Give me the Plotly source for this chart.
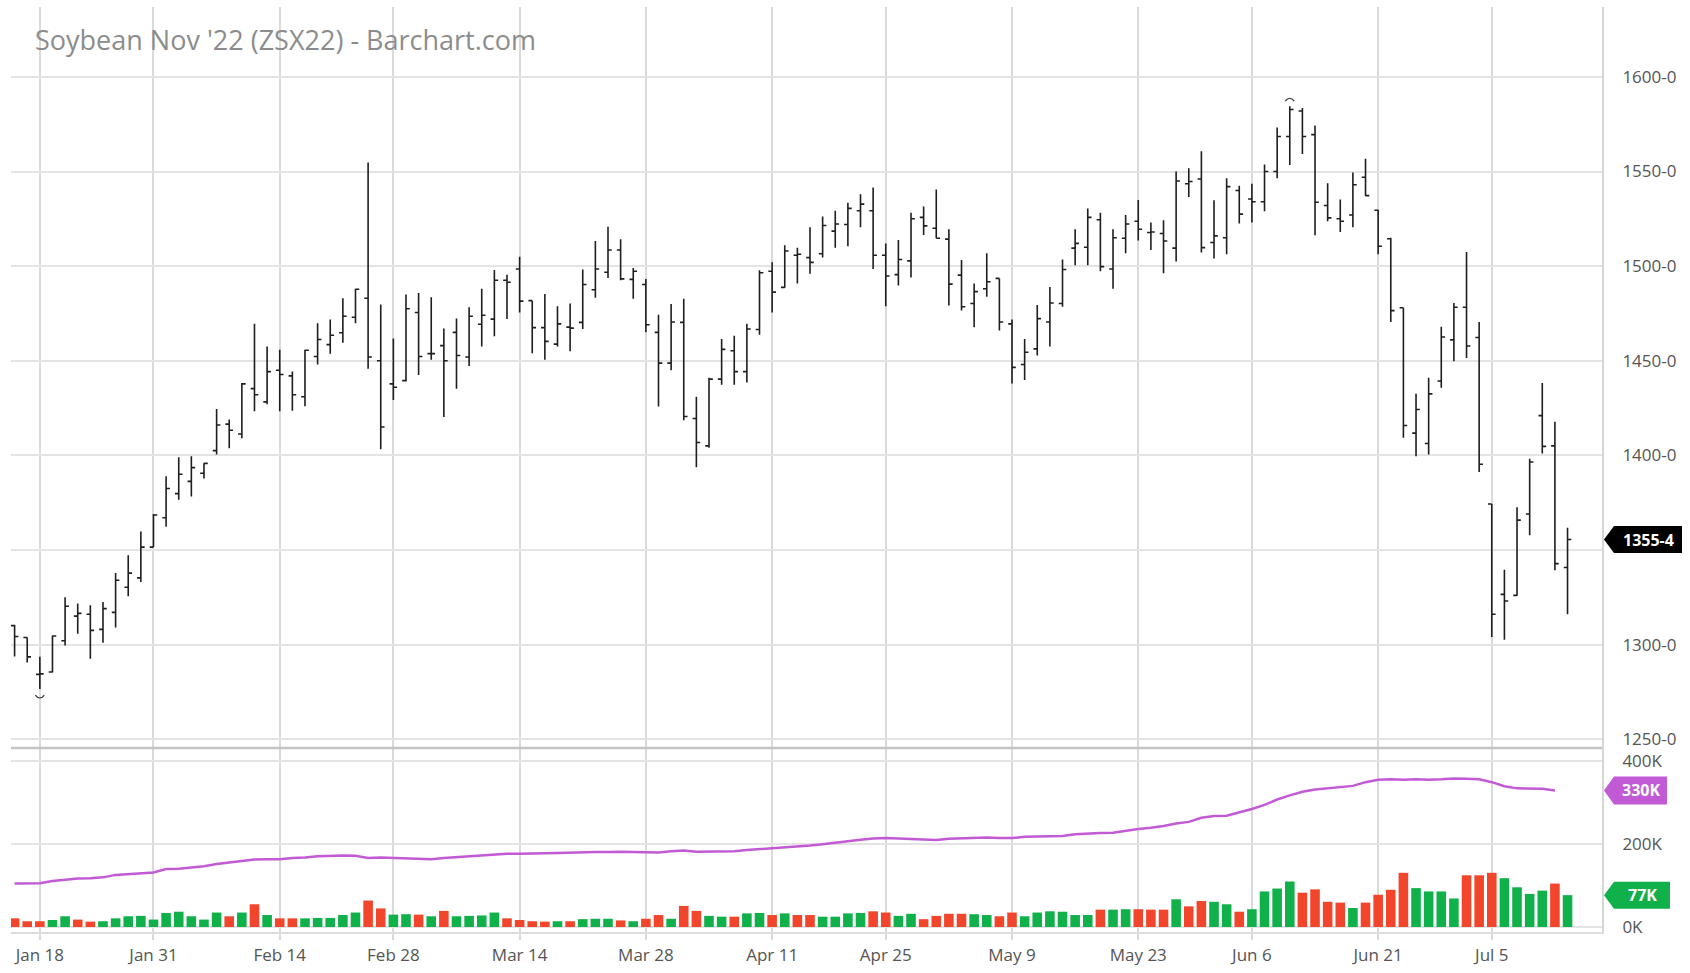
import pandas as pd
import plotly.graph_objects as go

# --- trading calendar (CBOT sessions, Jan 13 - Jul 13 2022) ---
holidays = ["2022-01-17", "2022-02-21", "2022-04-15", "2022-05-30", "2022-06-20", "2022-07-04"]
sessions = pd.bdate_range("2022-01-13", "2022-07-13", freq="C", holidays=holidays)
dates = [d.strftime("%Y-%m-%d") for d in sessions]

# --- daily OHLC, cents per bushel ---
open_ = [1310, 1303.75, 1284.25, 1285.5, 1302, 1315, 1316, 1308, 1317, 1330.25,
         1335.25, 1351.5, 1367, 1379.75, 1386.25, 1390.5, 1402.5, 1416.5, 1411.25, 1435.25,
         1428.25, 1445, 1442, 1431, 1452.25, 1458.5, 1464.75, 1473, 1483, 1450,
         1437.75, 1439.5, 1475.5, 1453.75, 1458, 1465, 1452, 1469.25, 1472, 1492.5,
         1498.5, 1481.75, 1467.5, 1458.75, 1467.75, 1470.25, 1487.5, 1496.75, 1508.5, 1493,
         1490.25, 1465, 1448.75, 1470.25, 1419.5, 1405, 1440.25, 1455.25, 1444.25, 1466.5,
         1497.25, 1488.75, 1505.75, 1504.5, 1506.5, 1518.5, 1522, 1529.25, 1529.25, 1505.75,
         1495.5, 1502.75, 1525.75, 1520, 1514.25, 1495.25, 1480.25, 1488, 1493.5, 1469.5,
         1448, 1456.25, 1470.5, 1480.25, 1509.5, 1510, 1524.5, 1498.5, 1514.75, 1523.75,
         1517.75, 1517.25, 1509.5, 1543.5, 1546, 1512.5, 1515, 1540, 1535.5, 1534,
         1550, 1568.5, 1582, 1569.5, 1532, 1525, 1527, 1547, 1529.5, 1514.5,
         1478, 1411.75, 1406.25, 1439.25, 1461, 1478.25, 1462.25, 1374.25, 1326.5, 1326,
         1369, 1421, 1405, 1340.75]
high = [1310.5, 1303.75, 1293.5, 1304.75, 1325, 1321.75, 1320.75, 1322.5, 1337.75, 1347.25,
        1359.75, 1369, 1389, 1399, 1399.5, 1395.75, 1424.5, 1419, 1438.25, 1469.5,
        1457.5, 1455.75, 1444.25, 1455.75, 1469.75, 1471.75, 1483, 1488, 1554.75, 1479.75,
        1461.75, 1485, 1485.75, 1483.5, 1467, 1472.25, 1478.25, 1488, 1498, 1495.5,
        1505, 1481.75, 1485.25, 1478.75, 1480.25, 1498.25, 1513.25, 1520.75, 1514.25, 1499,
        1493.25, 1474.25, 1480, 1482.75, 1431, 1441, 1461.5, 1463.25, 1469.5, 1497.75,
        1502, 1511, 1509.75, 1520.5, 1526.25, 1529.25, 1533.5, 1538, 1541.5, 1512,
        1513.75, 1528.25, 1531.5, 1540.5, 1519.5, 1503.25, 1490.75, 1506.75, 1493.5, 1471.75,
        1461.5, 1479.5, 1489, 1503.5, 1519.5, 1530.5, 1528.25, 1519.5, 1527, 1535,
        1523, 1524.25, 1550, 1551.75, 1560.75, 1534.75, 1546.5, 1542.5, 1543.5, 1553.75,
        1573.25, 1584.5, 1583.5, 1574.25, 1543.75, 1535.25, 1549.5, 1556.75, 1529.75, 1515,
        1478, 1432.5, 1441, 1468, 1480.5, 1507.5, 1470.5, 1374.25, 1339.5, 1372.5,
        1398.25, 1438.25, 1417.75, 1361.75]
low = [1293.75, 1290.5, 1276.5, 1285.25, 1299.5, 1305.75, 1292.5, 1301, 1309, 1325.5,
       1333, 1351.5, 1362.25, 1376.5, 1378.25, 1387.75, 1400.5, 1403.75, 1409, 1423.25,
       1427, 1423.25, 1423.5, 1426, 1448, 1453.75, 1459.5, 1469.75, 1445.75, 1403.25,
       1429.25, 1439, 1442.5, 1450.5, 1420.25, 1435.25, 1447.25, 1457.5, 1463, 1472,
       1475.5, 1454, 1450.5, 1457.5, 1455, 1466.75, 1483.25, 1493.75, 1492.5, 1482.75,
       1465, 1425.75, 1445, 1418.5, 1393.75, 1404, 1437.25, 1437.25, 1438.5, 1463.75,
       1475.5, 1488.5, 1490.75, 1496, 1504.5, 1509.75, 1510.5, 1520.5, 1498.5, 1478.75,
       1489.75, 1494, 1516.5, 1514.75, 1479.25, 1476.5, 1467.75, 1483.75, 1466, 1438,
       1439.75, 1452.75, 1457.5, 1478.5, 1500.5, 1500.5, 1497.25, 1488, 1506.75, 1513.5,
       1508.5, 1496.25, 1502.5, 1536.5, 1507.25, 1504, 1506.25, 1522.5, 1523, 1529,
       1546.5, 1553.5, 1559.25, 1516.25, 1523.75, 1518, 1520.5, 1537, 1506.25, 1470.5,
       1409.25, 1399.5, 1400.5, 1435.75, 1449.75, 1451.5, 1391.25, 1304, 1302.5, 1325.75,
       1357.75, 1401, 1339.25, 1316]
close = [1304.25, 1293.5, 1284.5, 1304.5, 1320.25, 1316.5, 1307.5, 1319, 1334, 1337.75,
         1351.5, 1368.5, 1382.5, 1390, 1393.5, 1395.75, 1416, 1413.25, 1437.75, 1432,
         1444.25, 1442.75, 1432, 1455.5, 1461.25, 1463.5, 1473.5, 1487.75, 1452, 1415,
         1436, 1477.5, 1452.25, 1453.75, 1450, 1452.75, 1473.5, 1474, 1492.5, 1491.5,
         1481.5, 1467.5, 1460.25, 1469.5, 1467.25, 1490.25, 1498.5, 1508.5, 1493.25, 1497.25,
         1469, 1448.75, 1470.5, 1420.5, 1406.75, 1440.25, 1456, 1444.25, 1466.75, 1496.5,
         1486.25, 1508, 1506.25, 1502, 1521.5, 1522.25, 1530.5, 1532.75, 1505.75, 1494.75,
         1503.5, 1525, 1521.25, 1514.75, 1490.5, 1478.5, 1486.5, 1491.75, 1470.5, 1446.5,
         1454.5, 1472.25, 1480.5, 1498.25, 1512, 1525.75, 1499.75, 1515, 1522.25, 1519.5,
         1518, 1513.25, 1545, 1544.75, 1509.75, 1516, 1542, 1527.5, 1534, 1550,
         1568.5, 1582.75, 1568.5, 1533.75, 1525.5, 1523.75, 1543, 1537.25, 1510.5, 1476.5,
         1415.75, 1424.25, 1432.5, 1462.5, 1478.25, 1457.75, 1395.25, 1316, 1323, 1365.75,
         1396.5, 1404.75, 1342.75, 1355.5]

# --- daily volume and open interest, thousands of contracts ---
volume_k = [21, 14, 14, 17, 26, 18, 13, 14, 21, 26,
            27, 18, 34, 37, 26, 18, 35, 26, 35, 55,
            29, 21, 21, 21, 22, 22, 29, 35, 64, 45,
            30, 31, 30, 26, 39, 26, 27, 28, 35, 21,
            17, 14, 13, 14, 14, 19, 20, 20, 16, 14,
            20, 29, 20, 51, 39, 27, 25, 25, 33, 34,
            29, 33, 29, 29, 25, 25, 33, 34, 38, 35,
            27, 32, 19, 27, 32, 32, 31, 29, 26, 35,
            26, 35, 38, 37, 29, 29, 42, 42, 43, 43,
            42, 42, 67, 50, 63, 61, 55, 37, 43, 86,
            93, 110, 83, 91, 61, 59, 46, 59, 78, 90,
            131, 94, 86, 86, 69, 125, 125, 131, 118, 96,
            80, 88, 105, 77]

open_interest_k = [105, 105, 106, 111, 114, 117, 118, 120, 126, 128,
                   130, 132, 140, 141, 144, 147, 152, 156, 160, 163,
                   164, 164, 167, 168, 171, 172, 173, 172, 167, 168,
                   167, 166, 164, 164, 167, 169, 171, 172, 175, 177,
                   177, 177, 178, 179, 180, 181, 181, 181, 182, 181,
                   181, 180, 183, 185, 182, 182, 183, 183, 186, 188,
                   190, 192, 195, 197, 200, 203, 207, 211, 214, 215,
                   214, 212, 211, 210, 213, 214, 215, 216, 215, 215,
                   218, 219, 220, 220, 224, 226, 227, 228, 233, 237,
                   240, 244, 250, 254, 264, 268, 269, 277, 285, 295,
                   308, 318, 327, 332, 335, 338, 341, 350, 356, 357,
                   356, 357, 356, 357, 359, 358, 357, 350, 340, 335,
                   334, 334, 330]

volume = [v * 1000 for v in volume_k]
open_interest = [v * 1000 for v in open_interest_k]

tick_dates = ["2022-01-18", "2022-01-31", "2022-02-14", "2022-02-28", "2022-03-14",
              "2022-03-28", "2022-04-11", "2022-04-25", "2022-05-09", "2022-05-23",
              "2022-06-06", "2022-06-21", "2022-07-05"]
tick_labels = [f"{pd.Timestamp(d):%b} {pd.Timestamp(d).day}" for d in tick_dates]

price_ticks = list(range(1250, 1601, 50))
volume_ticks = [0, 200000, 400000]

# --- geometry / styling ---
W, H = 1690, 973
ML, MR, MT, MB = 11, 88, 7, 33
SPLIT_PX = 754.5
plot_h = H - MT - MB
split = (H - MB - SPLIT_PX) / plot_h
PRICE_RANGE = [1245.28, 1636.94]
VOLUME_RANGE = [-12000, 432300]

GREEN = "#10b04a"
RED = "#f1462b"
OI_COLOR = "#c25ad6"
GRID = "#e4e4e4"
VGRID = "#dadada"
FONT = "Open Sans"
TICK_COLOR = "#555555"


def eighths(p):
    whole = int(p)
    return f"{whole}-{round((p - whole) * 8)}"


vol_colors = []
for i, c in enumerate(close):
    ref = close[i - 1] if i > 0 else open_[0]
    vol_colors.append(GREEN if c >= ref else RED)

# price labels that would sit underneath the last-price tag are left blank
price_px = (SPLIT_PX - MT) / (PRICE_RANGE[1] - PRICE_RANGE[0])
price_ticktext = [("" if abs(v - close[-1]) * price_px < 16 else f"{v}-0") for v in price_ticks]

fig = go.Figure()

fig.add_trace(go.Ohlc(
    x=dates, open=open_, high=high, low=low, close=close,
    xaxis="x", yaxis="y",
    increasing=dict(line=dict(color="#1e1e1e", width=1.6)),
    decreasing=dict(line=dict(color="#1e1e1e", width=1.6)),
    tickwidth=0.3, hoverinfo="skip", showlegend=False,
))

fig.add_trace(go.Bar(
    x=dates, y=volume, marker=dict(color=vol_colors, line=dict(width=0)),
    xaxis="x2", yaxis="y2", hoverinfo="skip", showlegend=False,
))

fig.add_trace(go.Scatter(
    x=dates[:len(open_interest)], y=open_interest, mode="lines",
    line=dict(color=OI_COLOR, width=2.5),
    xaxis="x2", yaxis="y2", hoverinfo="skip", showlegend=False,
))

n = len(dates)
x_range = [-0.285, n + 1.73]

axis_common = dict(showline=True, linecolor="#d6d6d6", linewidth=2, zeroline=False,
                   ticks="", tickfont=dict(family=FONT, size=17, color=TICK_COLOR))

fig.update_layout(
    width=W, height=H,
    margin=dict(l=ML, r=MR, t=MT, b=MB),
    paper_bgcolor="white", plot_bgcolor="white",
    font=dict(family=FONT),
    bargap=0.24,
    xaxis=dict(type="category", range=x_range, anchor="y", tickvals=tick_dates,
               showticklabels=False, showgrid=True, gridcolor=VGRID, gridwidth=1.5,
               zeroline=False, showline=False, rangeslider=dict(visible=False)),
    xaxis2=dict(type="category", range=x_range, anchor="y2", matches="x",
                tickvals=tick_dates, ticktext=tick_labels,
                showgrid=True, gridcolor=VGRID, gridwidth=1.5,
                showline=True, linecolor="#dddddd", linewidth=2, zeroline=False,
                ticks="outside", ticklen=6, tickcolor=VGRID, tickwidth=1.5,
                ticklabelstandoff=1,
                tickfont=dict(family=FONT, size=17, color=TICK_COLOR),
                rangeslider=dict(visible=False)),
    yaxis=dict(domain=[split, 1], range=PRICE_RANGE, side="right", anchor="x",
               tickvals=price_ticks, ticktext=price_ticktext,
               showgrid=True, gridcolor=GRID, gridwidth=2, ticklabelstandoff=15,
               **axis_common),
    yaxis2=dict(domain=[0, split], range=VOLUME_RANGE, side="right", anchor="x2",
                tickvals=volume_ticks, ticktext=[f"{v // 1000}K" for v in volume_ticks],
                showgrid=True, gridcolor=GRID, gridwidth=2, ticklabelstandoff=15,
                **axis_common),
)

shapes = [
    # pane separator
    dict(type="line", xref="paper", yref="paper", x0=0, x1=1, y0=split, y1=split,
         line=dict(color="#c4c4c4", width=2.5)),
]

# period high / low markers
hi_idx = max(range(n), key=lambda i: high[i])
lo_idx = min(range(n), key=lambda i: low[i])
shapes.append(dict(type="path", xref="x", yref="y", xsizemode="pixel", ysizemode="pixel",
                   xanchor=dates[hi_idx], yanchor=high[hi_idx],
                   path="M-4.5,5 Q0,11 4.5,5", line=dict(color="#333", width=1.2)))
shapes.append(dict(type="path", xref="x", yref="y", xsizemode="pixel", ysizemode="pixel",
                   xanchor=dates[lo_idx], yanchor=low[lo_idx],
                   path="M-4.5,-6 Q0,-12 4.5,-6", line=dict(color="#333", width=1.2)))


def last_value_tag(value, yref, color, text, box_w, half_h, size):
    shapes.append(dict(
        type="path", xref="paper", yref=yref, xsizemode="pixel", ysizemode="pixel",
        xanchor=1, yanchor=value,
        path=f"M2,0 L12,{half_h} L{box_w},{half_h} L{box_w},-{half_h} L12,-{half_h} Z",
        fillcolor=color, line=dict(width=0)))
    fig.add_annotation(xref="paper", yref=yref, x=1, y=value, xanchor="center",
                       xshift=(12 + box_w) / 2, showarrow=False,
                       text=f"<b>{text}</b>",
                       font=dict(family=FONT, size=size, color="white"))


last_value_tag(close[-1], "y", "#000000", eighths(close[-1]), 80, 13.5, 16)
last_value_tag(open_interest[-1], "y2", OI_COLOR, f"{round(open_interest[-1] / 1000)}K", 65, 14, 16)
last_value_tag(volume[-1], "y2", GREEN, f"{round(volume[-1] / 1000)}K", 68, 13.5, 16)

fig.update_layout(shapes=shapes)

fig.add_annotation(xref="paper", yref="paper",
                   x=(33 - ML) / (W - ML - MR), y=(H - MB - 40) / plot_h,
                   xanchor="left", yanchor="middle", showarrow=False,
                   text="Soybean Nov '22 (ZSX22) - Barchart.com",
                   font=dict(family=FONT, size=27, color="#8c8c8c"))

fig.write_html("out.html")
